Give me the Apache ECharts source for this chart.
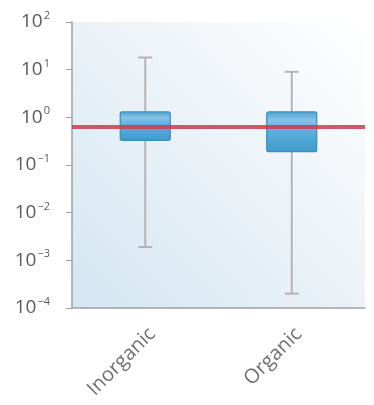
<!DOCTYPE html>
<html><head><meta charset="utf-8">
<script src="https://cdn.jsdelivr.net/npm/echarts@6/dist/echarts.min.js"></script>
<style>html,body{margin:0;padding:0;background:#fff}#c{width:374px;height:405px}</style>
</head><body><div id="c"></div>
<script>
var categories = ['Inorganic', 'Organic'];
// [min, Q1, median, Q3, max]
var boxValues = [
  [0.0019, 0.33, 0.65, 1.3, 18],
  [0.0002, 0.19, 0.62, 1.3, 9]
];
var referenceValue = 0.65;
var yExponents = [-4, -3, -2, -1, 0, 1, 2];

var chart = echarts.init(document.getElementById('c'));
var boxFill = new echarts.graphic.LinearGradient(0, 0, 0, 1, [
  { offset: 0, color: '#4aa2d2' },
  { offset: 0.22, color: '#86c4e4' },
  { offset: 0.45, color: '#5cb0dc' },
  { offset: 1, color: '#3f9acd' }
]);
chart.setOption({
  animation: false,
  grid: {
    left: 72, top: 22, right: 9, bottom: 97, show: true, borderWidth: 0,
    backgroundColor: new echarts.graphic.LinearGradient(0, 1, 1, 0, [
      { offset: 0, color: '#d3e6f2' },
      { offset: 0.55, color: '#edf3f8' },
      { offset: 1, color: '#ffffff' }
    ])
  },
  xAxis: {
    type: 'category', data: categories, boundaryGap: true,
    axisLine: { lineStyle: { color: '#a0a0a0', width: 1.5 } },
    axisTick: { alignWithLabel: true, length: 7, lineStyle: { color: '#a0a0a0' } },
    axisLabel: { rotate: 45, color: '#707070', fontSize: 20, fontFamily: 'Open Sans', margin: 30, padding: [0, -10, 0, 0] }
  },
  yAxis: {
    type: 'log', logBase: 10, min: 1e-4, max: 100,
    splitLine: { show: false },
    axisLine: { show: true, lineStyle: { color: '#a0a0a0', width: 1.5 } },
    axisTick: { show: true, length: 6, lineStyle: { color: '#a0a0a0' } },
    axisLabel: {
      color: '#5a5a5a', fontSize: 19, fontFamily: 'Open Sans', margin: 22,
      formatter: function (v) {
        var e = Math.round(Math.log10(v));
        return '10{s|' + (e < 0 ? '\u2212' + (-e) : e) + '}';
      },
      rich: { s: { fontSize: 11, color: '#5a5a5a', fontFamily: 'Open Sans', verticalAlign: 'top', padding: [0, 0, 12, 1] } }
    }
  },
  series: [{
    type: 'custom',
    data: boxValues.map(function (b, i) { return [i].concat(b); }),
    renderItem: function (params, api) {
      var x = api.value(0);
      var pMin = api.coord([x, api.value(1)]);
      var pQ1 = api.coord([x, api.value(2)]);
      var pQ3 = api.coord([x, api.value(4)]);
      var pMax = api.coord([x, api.value(5)]);
      var cx = pMin[0];
      var hw = 25;
      var ls = { stroke: '#b4b4b4', lineWidth: 2 };
      return { type: 'group', children: [
        { type: 'line', shape: { x1: cx, y1: pMin[1], x2: cx, y2: pMax[1] }, style: ls },
        { type: 'line', shape: { x1: cx - 7, y1: pMin[1], x2: cx + 7, y2: pMin[1] }, style: ls },
        { type: 'line', shape: { x1: cx - 7, y1: pMax[1], x2: cx + 7, y2: pMax[1] }, style: ls },
        { type: 'rect', shape: { x: cx - hw, y: pQ3[1], width: 2 * hw, height: pQ1[1] - pQ3[1], r: 2 },
          style: { fill: boxFill, stroke: '#3a8cbd', lineWidth: 1.2 } }
      ] };
    },
    markLine: {
      silent: true, symbol: 'none', label: { show: false },
      lineStyle: { color: '#cf3a4c', width: 4, type: 'solid', opacity: 0.85 },
      data: [{ yAxis: referenceValue }]
    }
  }]
});
</script></body></html>
